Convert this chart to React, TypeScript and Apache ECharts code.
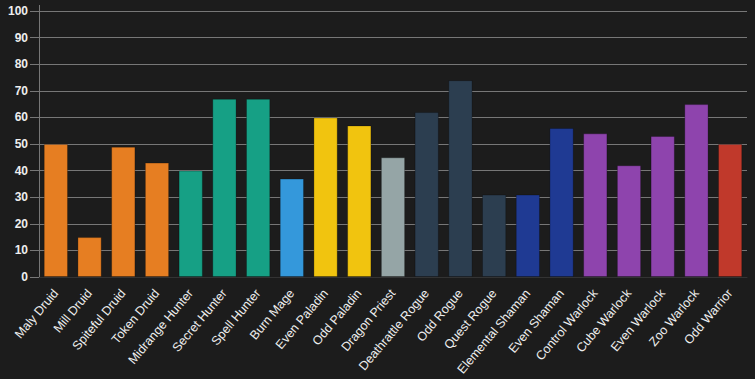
import React, { useEffect, useRef } from "react";
import * as echarts from "echarts";

const categories = [
  "Maly Druid", "Mill Druid", "Spiteful Druid", "Token Druid",
  "Midrange Hunter", "Secret Hunter", "Spell Hunter", "Burn Mage",
  "Even Paladin", "Odd Paladin", "Dragon Priest", "Deathrattle Rogue",
  "Odd Rogue", "Quest Rogue", "Elemental Shaman", "Even Shaman",
  "Control Warlock", "Cube Warlock", "Even Warlock", "Zoo Warlock", "Odd Warrior",
];
const values = [50, 15, 49, 43, 40, 67, 67, 37, 60, 57, 45, 62, 74, 31, 31, 56, 54, 42, 53, 65, 50];
const classes = [
  "Druid", "Druid", "Druid", "Druid", "Hunter", "Hunter", "Hunter", "Mage",
  "Paladin", "Paladin", "Priest", "Rogue", "Rogue", "Rogue", "Shaman", "Shaman",
  "Warlock", "Warlock", "Warlock", "Warlock", "Warrior",
];
const classColors: Record<string, string> = {
  Druid: "#e67e22",
  Hunter: "#16a085",
  Mage: "#3498db",
  Paladin: "#f1c40f",
  Priest: "#95a5a6",
  Rogue: "#2c3e50",
  Shaman: "#1f3a93",
  Warlock: "#8e44ad",
  Warrior: "#c0392b",
};
const yTicks = { min: 0, max: 100, interval: 10 };

export default function App() {
  const ref = useRef<HTMLDivElement>(null);
  useEffect(() => {
    if (!ref.current) return;
    const chart = echarts.init(ref.current, null, { renderer: "svg" });
    chart.setOption({
      animation: false,
      backgroundColor: "#1c1c1c",
      grid: { left: 39, right: 8, top: 11, bottom: 102, containLabel: false },
      graphic: [
        {
          type: "line",
          shape: { x1: 39.5, y1: 5, x2: 39.5, y2: 11 },
          style: { stroke: "#777", lineWidth: 1 },
        },
      ],
      xAxis: {
        type: "category",
        data: categories,
        axisLine: { show: true, lineStyle: { color: "#333" } },
        axisTick: { show: false },
        axisLabel: {
          rotate: 50,
          interval: 0,
          color: "#eeeeee",
          fontSize: 12.5,
          fontFamily: "Liberation Sans, Arial, sans-serif",
          margin: 14,
        },
      },
      yAxis: {
        type: "value",
        min: yTicks.min,
        max: yTicks.max,
        interval: yTicks.interval,
        axisLine: { show: true, lineStyle: { color: "#777" } },
        axisTick: { show: true, length: 9, lineStyle: { color: "#777" } },
        splitLine: { show: true, lineStyle: { color: "#777" } },
        axisLabel: {
          color: "#eeeeee",
          fontSize: 12,
          fontWeight: "bold",
          fontFamily: "Liberation Sans, Arial, sans-serif",
          margin: 11,
        },
      },
      series: [
        {
          type: "bar",
          barWidth: "72%",
          data: values.map((v, i) => ({
            value: v,
            itemStyle: {
              color: classColors[classes[i]],
              borderColor: "rgba(0,0,0,0.25)",
              borderWidth: 1,
            },
          })),
        },
      ],
    });
    return () => chart.dispose();
  }, []);
  return (
    <div
      ref={ref}
      style={{ position: "absolute", left: 0, top: 0, width: 755, height: 379 }}
    />
  );
}
